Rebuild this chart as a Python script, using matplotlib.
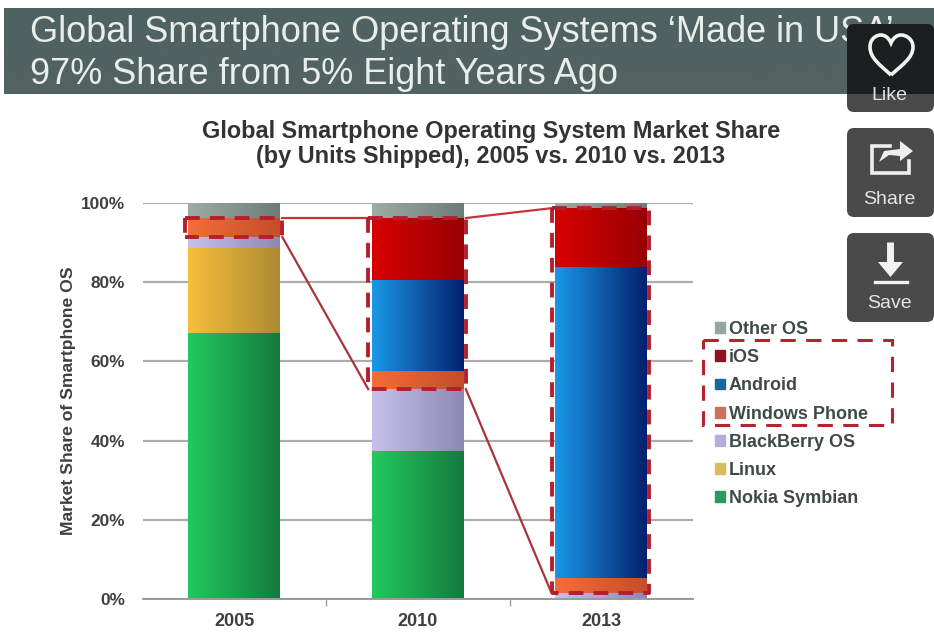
import numpy as np
import matplotlib
matplotlib.use("Agg")
import matplotlib.pyplot as plt
from matplotlib.patches import Rectangle, FancyBboxPatch, PathPatch, Patch
from matplotlib.path import Path
from matplotlib.colors import LinearSegmentedColormap

plt.rcParams['font.family'] = ['Liberation Sans', 'DejaVu Sans']

# Market share by year, percent of units shipped
years = ['2005', '2010', '2013']
nokia_symbian = [67.2, 37.4, 0.0]
linux = [21.4, 0.0, 0.0]
blackberry_os = [2.8, 15.6, 1.4]
windows_phone = [4.8, 4.6, 3.9]
android = [0.0, 22.9, 78.5]
ios = [0.0, 15.7, 14.9]
other_os = [3.8, 3.8, 1.3]

series_names = ['Nokia Symbian', 'Linux', 'BlackBerry OS', 'Windows Phone',
                'Android', 'iOS', 'Other OS']
series_values = [nokia_symbian, linux, blackberry_os, windows_phone,
                 android, ios, other_os]
light_colors = ['#22c95e', '#f7bf3a', '#c6c0ec', '#f56d38',
                '#1a98e6', '#d80000', '#9cada4']
dark_colors = ['#157a3e', '#ad8a34', '#8d89b4', '#c44d2a',
               '#03206e', '#980005', '#6c7c78']
legend_swatches = ['#2a9a60', '#d8bd5a', '#b5aed8', '#c8745c',
                   '#16689c', '#8c1420', '#98a49e']

title_lines = ['Global Smartphone Operating Systems \u2018Made in USA\u2019',
               '97% Share from 5% Eight Years Ago']
chart_title = ('Global Smartphone Operating System Market Share\n'
               '(by Units Shipped), 2005 vs. 2010 vs. 2013')

W, H = 934, 636
fig = plt.figure(figsize=(W / 100, H / 100), dpi=100, facecolor='white')

# Plot area placed in pixel terms
left, right, top, bottom = 142.5, 693, 203, 599
ax = fig.add_axes([left / W, 1 - bottom / H, (right - left) / W, (bottom - top) / H])
x = np.arange(len(years))
bar_width = 0.5
ax.set_xlim(-0.5, 2.5)
ax.set_ylim(0, 100)

ax.grid(axis='y', color='#a9aeac', lw=1.6, zorder=0)
ax.set_axisbelow(True)
for side in ('top', 'right', 'left'):
    ax.spines[side].set_visible(False)
ax.spines['bottom'].set_color('#9a9a9a')
ax.spines['bottom'].set_linewidth(1.4)
ax.set_yticks(range(0, 101, 20))
ax.set_yticklabels([f'{v}%' for v in range(0, 101, 20)], fontsize=12.4,
                   fontweight='bold', color='#3f3f3f')
ax.tick_params(axis='y', length=0, pad=12.5)
ax.set_xticks(x)
ax.set_xticklabels(years, fontsize=13, fontweight='bold', color='#3f3f3f')
ax.tick_params(axis='x', length=0, pad=10)
ax.set_xticks(x[:-1] + 0.5, minor=True)
ax.tick_params(axis='x', which='minor', length=5, color='#9a9a9a', width=1)
ax.set_ylabel('Market Share of Smartphone OS', fontsize=12.6, fontweight='bold',
              color='#3f3f3f')
ax.yaxis.set_label_coords((76 - left) / (right - left), 0.5)

# Stacked bars, each segment shaded from left to right
stack = np.zeros(len(years))
tops = {}
for name, values, c0, c1 in zip(series_names, series_values, light_colors, dark_colors):
    values = np.array(values)
    bars = ax.bar(x, values, bar_width, bottom=stack, color=c0, zorder=2)
    cmap = LinearSegmentedColormap.from_list(name, [c0, c1])
    for rect in bars:
        if rect.get_height() > 0:
            ax.imshow(np.linspace(0, 1, 128).reshape(1, -1), cmap=cmap, aspect='auto',
                      extent=(rect.get_x(), rect.get_x() + rect.get_width(),
                              rect.get_y(), rect.get_y() + rect.get_height()),
                      zorder=2.1, interpolation='bilinear')
    stack = stack + values
    tops[name] = stack.copy()
ax.set_xlim(-0.5, 2.5)
ax.set_ylim(0, 100)

# Dashed outlines around the US-built systems, with connecting lines
frame_red = '#b3202c'
box_top = tops['iOS']
box_bottom = tops['BlackBerry OS']
pad_l, pad_r = 0.02, 0.012
dash = dict(color=frame_red, lw=2.8, ls=(0, (3.8, 2.6)), zorder=4, clip_on=False,
            dash_capstyle='butt')
for i in x:
    x0 = i - bar_width / 2 - pad_l
    x1 = i + bar_width / 2 + pad_r
    ax.plot([x0, x1, x1, x0], [box_top[i], box_top[i], box_bottom[i], box_bottom[i]], **dash)
    ax.plot([x0, x0], [box_top[i], box_bottom[i]], **dash)
for i in x[:-1]:
    x0 = i + bar_width / 2 + pad_r
    x1 = i + 1 - bar_width / 2 - pad_l
    ax.plot([x0, x1], [box_top[i], box_top[i + 1]], color='#c8323c', lw=1.6, zorder=3)
    ax.plot([x0, x1], [box_bottom[i], box_bottom[i + 1]], color='#a8343c', lw=1.6, zorder=3)

handles = [Patch(color=c, label=n) for n, c in zip(series_names, legend_swatches)][::-1]
ax.legend(handles=handles, loc='upper left', bbox_to_anchor=(715 / W, 1 - 321 / H),
          bbox_transform=fig.transFigure, frameon=False,
          prop={'weight': 'bold', 'size': 13}, labelcolor='#3f4a48',
          handlelength=0.55, handleheight=0.55, handletextpad=0.22,
          labelspacing=0.62, borderpad=0, borderaxespad=0)

# Page furniture drawn in pixel coordinates
page = fig.add_axes([0, 0, 1, 1], zorder=5)
page.set_xlim(0, W)
page.set_ylim(H, 0)
page.axis('off')
page.patch.set_alpha(0)

band = LinearSegmentedColormap.from_list('band', ['#4e6261', '#536261'])
page.imshow(np.linspace(0, 1, 64).reshape(-1, 1), cmap=band, aspect='auto',
            extent=(4, W, 94, 8), zorder=1)
page.set_xlim(0, W)
page.set_ylim(H, 0)
page.text(30, 33, title_lines[0], fontsize=26, color='#e8eeea', va='center', zorder=2)
page.text(30, 75, title_lines[1], fontsize=26, color='#e8eeea', va='center', zorder=2)
page.text(491, 144, chart_title, fontsize=16.9, fontweight='bold', color='#333333',
          ha='center', va='center', linespacing=1.13, zorder=2)

# Dashed frame around the grouped legend entries
page.add_patch(Rectangle((703, 340), 189, 85, fill=False, ec='#b8222e', lw=2.2,
                         ls=(0, (5, 3.4)), zorder=2))

# Side buttons; the first one darkens where it overlaps the header band
button_style = dict(boxstyle='round,pad=0,rounding_size=7', fc='#4a4a4a', ec='none')
like_button = FancyBboxPatch((847, 24), 87, 88, zorder=3, **button_style)
page.add_patch(like_button)
page.add_patch(FancyBboxPatch((847, 128), 87, 89, zorder=3, **button_style))
page.add_patch(FancyBboxPatch((847, 233), 87, 89, zorder=3, **button_style))
overlap = Rectangle((847, 24), 87, 70, fc='#1c1f1f', ec='none', zorder=3.1)
page.add_patch(overlap)
overlap.set_clip_path(like_button)
for lab, yy in (('Like', 95), ('Share', 199), ('Save', 303)):
    page.text(889, yy, lab, fontsize=14, color='#e4e4e4', ha='center', va='center', zorder=4)

# Heart icon
heart = Path([(891, 75), (880, 65), (870, 58), (870, 47),
              (870, 39), (876, 35), (881, 35),
              (885, 35), (889, 38), (891, 43),
              (893, 38), (897, 35), (901, 35),
              (906, 35), (913, 39), (913, 47),
              (913, 58), (902, 65), (891, 75)],
             [Path.MOVETO] + [Path.CURVE4] * 18)
page.add_patch(PathPatch(heart, fc='none', ec='#f2f2f2', lw=2.6, zorder=4))

# Share icon
page.plot([890, 872, 872, 909, 909], [146, 146, 173, 173, 161], color='#eeeeee', lw=2.6,
          zorder=4, solid_joinstyle='miter')
arrow = Path([(879, 162), (884, 151), (900, 149), (900, 141), (913, 151), (900, 161),
              (900, 156), (889, 155), (879, 162)])
page.add_patch(PathPatch(arrow, fc='#eeeeee', ec='none', zorder=4))

# Save icon
page.plot([890, 890], [242, 265], color='#f2f2f2', lw=5, zorder=4, solid_capstyle='butt')
page.add_patch(PathPatch(Path([(878, 262), (903, 262), (890.5, 277), (878, 262)]),
                         fc='#f2f2f2', ec='none', zorder=4))
page.plot([875, 907], [282, 282], color='#f2f2f2', lw=2.4, zorder=4)

fig.savefig('out.png', dpi=100, facecolor='white')
